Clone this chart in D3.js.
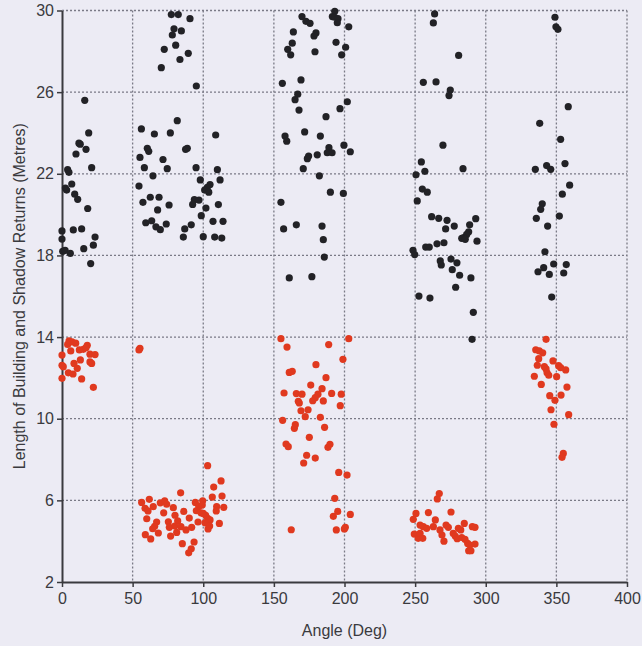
<!DOCTYPE html>
<html>
<head>
<meta charset="utf-8">
<script src="https://cdn.jsdelivr.net/npm/d3@7"></script>
<style>
  html, body { margin: 0; padding: 0; background: #ecebf4; }
  svg { display: block; font-family: 'Liberation Sans', Arial, sans-serif; }
</style>
</head>
<body>
<svg width="642" height="646"></svg>
<script>
// angle (deg), length (m)
let blackPoints = [
  // 0-25 deg
  [16.1, 25.6], [18.9, 24.0], [12.0, 23.5], [12.9, 23.45], [9.9, 22.97], [17.0, 23.2], [21.0, 22.3],
  [4.0, 22.2], [4.9, 22.07], [2.4, 21.3], [3.3, 21.2], [6.9, 21.5], [9.0, 21.0], [11.1, 20.75], [18.2, 20.3],
  [0, 19.2], [0, 18.8], [0.5, 18.2], [2.2, 18.25], [5.9, 18.1], [8.0, 19.25], [13.9, 19.3], [15.4, 18.33],
  [20.3, 17.6], [22.2, 18.5], [23.4, 18.9],
  // 55-115 deg
  [81.6, 24.6], [56.2, 24.2], [65.4, 23.95], [76.7, 24.0], [108.8, 23.9], [60.4, 23.25], [61.4, 23.1],
  [87.5, 23.2], [88.7, 23.25], [55.2, 22.8], [71.5, 22.7], [58.3, 22.3], [74.5, 22.25], [94.9, 22.3],
  [110.0, 22.2], [64.4, 21.9], [97.9, 21.7], [111.9, 21.7], [54.5, 21.4], [104.8, 21.47], [102.9, 21.34],
  [101.0, 21.2], [103.9, 21.1], [62.5, 20.85], [68.7, 20.85], [57.3, 20.6], [93.7, 20.73], [97.0, 20.71],
  [92.5, 20.5], [75.8, 20.47], [67.7, 20.23], [110.7, 20.49], [101.9, 20.32], [59.3, 19.6], [63.5, 19.7],
  [73.8, 19.54], [66.5, 19.4], [69.6, 19.26], [91.5, 19.5], [86.9, 19.3], [106.9, 19.67], [114.0, 19.67],
  [98.6, 19.95], [85.9, 18.9], [100.0, 18.92], [108.1, 18.9], [113.1, 18.85],
  [95.1, 26.3], [77.4, 29.8], [82.3, 29.8], [90.6, 29.6], [79.3, 29.1], [78.1, 28.8], [84.5, 29.0],
  [80.5, 28.3], [72.4, 28.1], [89.4, 27.9], [83.5, 27.6], [70.3, 27.2],
  // 150-205 deg
  [193.1, 29.96], [191.4, 29.7], [193.1, 29.67], [195.4, 29.6], [194.9, 29.4], [169.9, 29.7], [172.7, 29.47],
  [175.6, 29.37], [203.0, 29.2], [163.8, 28.95], [179.8, 28.9], [178.4, 28.75], [163.0, 28.4], [194.0, 28.44],
  [200.8, 28.2], [159.8, 28.1], [161.9, 27.83], [179.1, 27.98], [198.0, 27.83], [156.0, 26.43], [169.2, 26.6],
  [166.9, 25.9], [165.0, 25.63], [202.0, 25.53], [196.8, 25.19], [167.8, 25.12], [186.9, 24.8], [157.9, 23.85],
  [159.1, 23.6], [171.8, 24.05], [182.9, 23.85], [199.6, 23.4], [189.0, 23.28], [187.8, 23.03], [191.2, 23.03],
  [204.1, 23.08], [180.7, 22.93], [174.6, 22.87], [173.7, 22.74], [170.8, 22.25], [182.2, 21.9], [190.0, 21.1],
  [199.2, 21.04], [155.0, 20.6], [156.9, 19.3], [165.9, 19.5], [184.1, 19.44], [185.0, 18.77], [185.7, 17.92],
  [160.9, 16.9], [176.9, 16.96],
  // 245-300 deg
  [263.8, 29.83], [262.9, 29.39], [280.8, 27.8], [255.8, 26.48], [264.8, 26.5], [274.9, 26.1], [274.0, 25.83],
  [269.7, 23.4], [254.4, 22.58], [256.9, 22.12], [283.9, 22.25], [255.1, 21.25], [258.6, 21.1], [250.6, 21.95],
  [251.5, 20.67], [261.7, 19.9], [266.7, 19.82], [272.6, 19.72], [292.9, 19.8], [288.6, 19.5], [271.6, 19.3],
  [277.7, 19.44], [287.9, 19.16], [286.5, 19.03], [284.4, 18.87], [283.0, 18.84], [285.5, 18.79], [293.8, 18.7],
  [257.5, 18.41], [260.0, 18.41], [265.5, 18.57], [270.4, 18.62], [248.5, 18.25], [249.7, 18.04], [267.8, 17.73],
  [268.5, 17.53], [275.4, 17.82], [279.6, 17.64], [276.3, 17.3], [281.5, 17.03], [289.5, 16.9], [278.7, 16.44],
  [252.7, 16.01], [260.5, 15.91], [291.2, 15.21], [290.3, 13.89],
  // 330-365 deg
  [349.0, 29.67], [349.7, 29.2], [351.1, 29.08], [358.4, 25.29], [338.2, 24.47], [353.0, 23.69], [356.1, 22.5],
  [335.1, 22.22], [343.1, 22.4], [346.0, 22.22], [359.4, 21.44], [354.2, 21.0], [340.0, 20.53], [338.9, 20.26],
  [335.8, 19.82], [352.1, 19.93], [343.8, 19.44], [341.9, 18.18], [348.1, 17.58], [357.0, 17.55], [337.0, 17.2],
  [341.0, 17.4], [345.0, 17.07], [355.2, 17.14], [346.7, 15.96]
];

let redPoints = [
  // 0-25 deg
  [5.0, 13.82], [7.1, 13.76], [9.7, 13.7], [4.0, 13.64], [0, 13.12], [6.2, 13.32], [12.3, 13.37], [15.1, 13.4],
  [17.9, 13.6], [17.0, 13.48], [19.8, 13.16], [23.4, 13.14], [0, 12.62], [0.9, 12.55], [8.5, 12.71], [13.0, 12.88],
  [19.8, 12.78], [21.0, 12.71], [4.5, 12.25], [7.8, 12.19], [10.8, 12.47], [0, 11.98], [13.9, 11.95], [22.2, 11.54],
  [55.2, 13.45], [54.5, 13.37],
  // 55-115 deg
  [103.1, 7.7], [112.6, 6.95], [107.4, 6.65], [84.0, 6.37], [106.4, 6.16], [113.3, 6.21], [61.8, 6.05], [56.4, 5.9],
  [64.6, 5.69], [69.6, 5.88], [72.7, 5.97], [74.1, 5.81], [78.8, 5.64], [94.4, 5.9], [96.8, 5.69], [99.6, 5.98],
  [99.3, 5.77], [109.5, 5.7], [109.2, 5.48], [114.5, 5.66], [58.8, 5.61], [60.9, 5.48], [72.0, 5.39], [86.2, 5.46],
  [95.1, 5.49], [98.4, 5.39], [101.7, 5.27], [103.1, 5.12], [104.8, 5.04], [60.0, 5.1], [80.0, 5.27], [90.1, 5.13],
  [75.3, 4.95], [81.9, 4.99], [96.3, 4.94], [101.2, 4.9], [111.4, 4.87], [67.0, 4.94], [65.6, 4.73], [64.2, 4.61],
  [76.0, 4.68], [79.8, 4.74], [84.2, 4.71], [87.8, 4.55], [91.8, 4.68], [104.5, 4.74], [68.2, 4.4], [81.2, 4.43],
  [76.9, 4.25], [59.0, 4.32], [62.8, 4.11], [85.2, 3.88], [93.5, 3.96], [91.5, 3.63], [89.7, 3.43], [100.0, 5.36],
  [103.4, 4.6],
  // 150-205 deg
  [155.0, 13.92], [159.3, 13.51], [188.8, 13.63], [203.0, 13.92], [198.9, 12.91], [179.8, 12.65], [160.9, 12.27],
  [163.0, 12.32], [186.9, 12.01], [176.1, 11.65], [184.1, 11.47], [157.2, 11.26], [165.9, 11.23], [169.9, 11.2],
  [190.9, 11.24], [197.7, 11.2], [181.2, 11.2], [179.3, 11.03], [177.5, 10.88], [167.3, 10.85], [168.0, 10.77],
  [185.0, 10.87], [197.0, 10.64], [169.2, 10.39], [174.2, 10.44], [172.2, 10.1], [182.9, 10.07], [156.2, 9.92],
  [165.2, 9.71], [164.5, 9.53], [185.9, 9.58], [175.1, 9.09], [158.6, 8.76], [160.2, 8.63], [188.3, 8.6],
  [189.7, 8.75], [173.2, 8.21], [171.1, 7.83], [179.3, 8.07], [195.9, 7.37], [201.8, 7.24], [193.1, 6.1],
  [195.2, 5.46], [192.1, 5.22], [204.1, 5.31], [194.2, 4.55], [200.6, 4.68], [199.9, 4.6], [162.3, 4.56],
  // 245-295 deg
  [248.7, 5.07], [250.6, 5.36], [249.4, 4.35], [252.2, 4.14], [267.1, 6.33], [265.7, 6.07], [259.4, 5.4],
  [275.4, 5.43], [264.3, 5.04], [253.5, 4.79], [255.8, 4.71], [258.2, 4.63], [262.9, 4.71], [271.9, 4.79],
  [273.5, 4.68], [284.8, 4.87], [290.5, 4.71], [292.4, 4.68], [280.6, 4.63], [282.3, 4.55], [277.0, 4.38],
  [278.4, 4.25], [279.8, 4.12], [283.0, 4.18], [285.3, 4.09], [269.0, 4.3], [270.4, 4.0], [287.2, 3.89],
  [288.8, 3.81], [292.4, 3.86], [287.9, 3.53], [289.5, 3.53], [253.5, 4.38], [255.4, 4.14], [267.6, 4.55],
  // 330-365 deg
  [342.7, 13.89], [335.4, 13.38], [337.9, 13.32], [340.3, 13.23], [337.5, 12.94], [347.6, 12.83], [336.5, 12.62],
  [341.5, 12.55], [342.7, 12.44], [351.6, 12.6], [353.0, 12.5], [356.6, 12.39], [343.4, 12.25], [344.6, 12.13],
  [334.4, 12.08], [350.2, 12.06], [339.3, 11.68], [357.5, 11.55], [353.3, 11.16], [345.3, 11.13], [349.0, 10.9],
  [346.2, 10.44], [358.7, 10.2], [348.3, 9.73], [354.9, 8.3], [354.0, 8.11]
];

let xTicks = [0, 50, 100, 150, 200, 250, 300, 350, 400];
let yTicks = [2, 6, 10, 14, 18, 22, 26, 30];

let marginLeft = 62;
let marginTop = 10.5;
let marginRight = 15;
let marginBottom = 64;

let svg = d3.select('svg');
let width = +svg.attr('width') - marginLeft - marginRight;
let height = +svg.attr('height') - marginTop - marginBottom;

let xScale = d3.scaleLinear().domain([0, 400]).range([0, width]);
let yScale = d3.scaleLinear().domain([2, 30]).range([height, 0]);

let canvas = svg.append('g').attr('transform', `translate(${marginLeft},${marginTop})`);

// dotted grid
canvas.append('g')
  .selectAll('line')
  .data(xTicks.slice(1))
  .enter()
  .append('line')
  .attr('x1', (d) => xScale(d))
  .attr('x2', (d) => xScale(d))
  .attr('y1', 0)
  .attr('y2', height)
  .attr('stroke', '#7a7a86')
  .attr('stroke-width', 1.3)
  .attr('stroke-dasharray', '2,2');

canvas.append('g')
  .selectAll('line')
  .data(yTicks.slice(1))
  .enter()
  .append('line')
  .attr('x1', 0)
  .attr('x2', width)
  .attr('y1', (d) => yScale(d))
  .attr('y2', (d) => yScale(d))
  .attr('stroke', '#7a7a86')
  .attr('stroke-width', 1.3)
  .attr('stroke-dasharray', '2,2');

let xAxis = canvas.append('g')
  .attr('transform', `translate(0,${height})`)
  .call(d3.axisBottom(xScale).tickValues(xTicks).tickSize(5).tickSizeOuter(0).tickPadding(6));

let yAxis = canvas.append('g')
  .call(d3.axisLeft(yScale).tickValues(yTicks).tickSize(5).tickSizeOuter(0).tickPadding(3));

[xAxis, yAxis].forEach((ax) => {
  ax.select('.domain').attr('stroke', '#3a3a3e').attr('stroke-width', 2);
  ax.selectAll('.tick line').attr('stroke', '#3a3a3e').attr('stroke-width', 1.5);
  ax.selectAll('.tick text')
    .attr('fill', '#3a3a3e')
    .style('font-size', '16px')
    .style('font-family', "'Liberation Sans', Arial, sans-serif");
});

canvas.append('g')
  .selectAll('circle')
  .data(blackPoints)
  .enter()
  .append('circle')
  .attr('cx', (d) => xScale(d[0]))
  .attr('cy', (d) => yScale(d[1]))
  .attr('r', 3.6)
  .attr('fill', '#222226');

canvas.append('g')
  .selectAll('circle')
  .data(redPoints)
  .enter()
  .append('circle')
  .attr('cx', (d) => xScale(d[0]))
  .attr('cy', (d) => yScale(d[1]))
  .attr('r', 3.6)
  .attr('fill', '#e0391f');

svg.append('text')
  .attr('x', marginLeft + width / 2)
  .attr('y', marginTop + height + 54)
  .attr('text-anchor', 'middle')
  .attr('fill', '#3a3a3e')
  .style('font-size', '16px')
  .text('Angle (Deg)');

svg.append('text')
  .attr('transform', `translate(25,${marginTop + height / 2}) rotate(-90)`)
  .attr('text-anchor', 'middle')
  .attr('fill', '#3a3a3e')
  .style('font-size', '16px')
  .text('Length of Building and Shadow Returns (Metres)');
</script>
</body>
</html>
